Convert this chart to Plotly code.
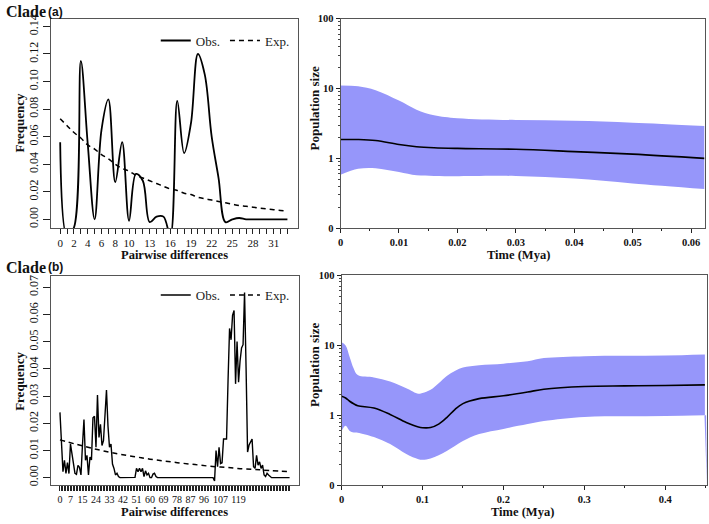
import plotly.graph_objects as go

W, H = 709, 524
SERIF = "Liberation Serif"
SANS = "Liberation Sans"

# ---------------- Clade (a): mismatch distribution ----------------
diff_a = list(range(0, 34))
obs_a = [0.056, -0.012, -0.006, 0.115, 0.055, 0.000, 0.065, 0.087, 0.027, 0.056,
         -0.001, 0.033, 0.028, -0.002, 0.002, 0.002, -0.012, 0.086, 0.048, 0.070,
         0.120, 0.105, 0.060, 0.030, -0.002, 0.000, 0.001, 0.000, 0.000, 0.000,
         0.000, 0.000, 0.000, 0.000]
exp_a = [0.073, 0.068, 0.063, 0.059, 0.054, 0.051, 0.047, 0.044, 0.040, 0.037,
         0.035, 0.032, 0.030, 0.028, 0.026, 0.024, 0.022, 0.021, 0.019, 0.018,
         0.016, 0.015, 0.014, 0.013, 0.012, 0.011, 0.010, 0.0095, 0.0088, 0.0082,
         0.0076, 0.0070, 0.0065, 0.0060]
xlabels_a = [0, 2, 4, 6, 8, 10, 13, 16, 19, 22, 25, 28, 31]
yticks_a = [0.00, 0.02, 0.04, 0.06, 0.08, 0.10, 0.12, 0.14]

# ---------------- Clade (b): mismatch distribution ----------------
obs_b_x = [0, 2, 3, 4, 5, 6, 7, 9, 10, 11, 12, 13, 14, 15, 16, 17, 18, 19, 20, 21,
           22, 23, 24, 25, 26, 27, 28, 29, 30, 31, 32, 33, 34, 35, 36, 37, 38, 39, 40,
           49, 50, 51, 52, 53, 54, 55, 56, 57, 58, 59, 60, 61, 62, 63, 64, 65,
           102, 103, 104, 105, 106, 107, 108, 109, 110, 111, 112, 113, 114, 115, 116,
           117, 118, 119, 120, 121, 122, 123, 124, 125, 126, 127, 128, 129, 130, 131,
           132, 133, 134, 135, 136, 137, 138, 139, 140, 141, 153]
obs_b_y = [0.024, 0.0022, 0.0064, 0.0016, 0.0055, 0.0015, 0.0124, 0.0045, 0.0016, 0.0012,
           0.0045, 0.0038, 0.0010, 0.0120, 0.0214, 0.0064, 0.0082, 0.0010, 0.0076, 0.0065,
           0.0220, 0.0226, 0.0112, 0.0304, 0.0148, 0.0196, 0.0118, 0.0136, 0.0250, 0.0322,
           0.0190, 0.0112, 0.0124, 0.0050, 0.0034, 0.0010, 0.0016, 0.0004, 0.0,
           0.0, 0.0001, 0.0034, 0.0022, 0.0034, 0.0022, 0.0034, 0.0004, 0.0025, 0.0010,
           0.0016, 0.0, 0.0, 0.0013, 0.0016, 0.0004, 0.0,
           0.0, -0.0012, 0.0100, 0.0040, 0.0112, 0.0052, 0.0055, 0.0142, 0.0142, 0.0142,
           0.0357, 0.0549, 0.0507, 0.0597, 0.0615, 0.0345, 0.0501, 0.0351, 0.0429, 0.0477,
           0.0489, 0.0681, 0.0405, 0.0094, 0.0120, 0.0130, 0.0142, 0.0040, 0.0034, 0.0082,
           0.0046, 0.0058, 0.0034, 0.0046, 0.0010, 0.0004, 0.0016, 0.0010, 0.0005, 0.0, 0.0]
exp_b_x = [0, 10, 20, 30, 40, 50, 60, 70, 80, 90, 100, 110, 120, 130, 140, 153]
exp_b_y = [0.0139, 0.0124, 0.0110, 0.0097, 0.0086, 0.0077, 0.0068, 0.0061, 0.0054,
           0.0048, 0.0042, 0.0038, 0.0033, 0.0030, 0.0026, 0.0022]
xlabels_b = [0, 7, 15, 24, 33, 42, 51, 60, 69, 78, 87, 96, 107, 119]
xmax_b = 153
yticks_b = [0.00, 0.01, 0.02, 0.03, 0.04, 0.05, 0.06, 0.07]

# ---------------- Clade (a): Bayesian skyline ----------------
t_a = [0, 0.003, 0.006, 0.01, 0.013, 0.016, 0.02, 0.03, 0.04, 0.05, 0.0623]
med_a = [1.86, 1.86, 1.80, 1.58, 1.47, 1.42, 1.39, 1.35, 1.25, 1.15, 1.00]
up_a = [11.1, 10.8, 9.48, 6.73, 4.99, 4.16, 3.77, 3.54, 3.46, 3.25, 2.92]
lo_a = [0.585, 0.71, 0.725, 0.638, 0.573, 0.56, 0.555, 0.56, 0.515, 0.438, 0.365]
xt_a = [0, 0.01, 0.02, 0.03, 0.04, 0.05, 0.06]

# ---------------- Clade (b): Bayesian skyline ----------------
t_b = [0, 0.005, 0.01, 0.015, 0.02, 0.04, 0.06, 0.08, 0.095, 0.1, 0.11, 0.12, 0.13,
       0.14, 0.15, 0.17, 0.2, 0.23, 0.25, 0.3, 0.35, 0.4, 0.449]
med_b = [1.87, 1.77, 1.59, 1.46, 1.37, 1.27, 1.03, 0.79, 0.68, 0.665, 0.67, 0.75, 0.93,
         1.21, 1.47, 1.73, 1.90, 2.15, 2.36, 2.58, 2.63, 2.66, 2.72]
up_b = [11.0, 9.9, 6.8, 4.65, 3.76, 3.48, 3.03, 2.44, 2.03, 2.08, 2.31, 2.87, 3.64,
        4.3, 4.8, 5.19, 5.47, 5.9, 6.56, 7.0, 7.1, 7.16, 7.4]
lo_b = [0.60, 0.71, 0.60, 0.57, 0.565, 0.49, 0.39, 0.28, 0.236, 0.232, 0.242, 0.27, 0.31,
        0.365, 0.43, 0.54, 0.64, 0.75, 0.83, 0.95, 0.97, 0.98, 1.0]
tail_b_x = [0.4485, 0.4505, 0.4515]
tail_b_y = [1.0, 1.0, 0.1]
xt_b = [0, 0.1, 0.2, 0.3, 0.4]

ytick_log = [0.1, 1, 10, 100]
ytick_log_text = ["0", "1", "10", "100"]
minor_log = [m * d for d in (0.1, 1, 10) for m in range(2, 10)]

FILL = "rgb(150,150,250)"
BOX = "#555555"


def px_x(p):
    return p / W


def px_y(p):
    return 1 - p / H


fig = go.Figure()

# --- traces: TL
fig.add_trace(go.Scatter(x=diff_a, y=obs_a, mode="lines", name="Obs.",
                         line=dict(color="black", width=1.8, shape="spline", smoothing=1.0),
                         xaxis="x", yaxis="y", legend="legend"))
fig.add_trace(go.Scatter(x=diff_a, y=exp_a, mode="lines", name="Exp.",
                         line=dict(color="black", width=1.5, dash="5px,4px", shape="spline"),
                         xaxis="x", yaxis="y", legend="legend"))
# --- traces: TR
fig.add_trace(go.Scatter(x=t_a, y=lo_a, mode="lines", line=dict(width=0, shape="spline"),
                         showlegend=False, xaxis="x2", yaxis="y2", hoverinfo="skip"))
fig.add_trace(go.Scatter(x=t_a, y=up_a, mode="lines", line=dict(width=0, shape="spline"),
                         fill="tonexty", fillcolor=FILL, showlegend=False,
                         xaxis="x2", yaxis="y2", hoverinfo="skip"))
fig.add_trace(go.Scatter(x=t_a, y=med_a, mode="lines",
                         line=dict(color="black", width=1.6, shape="spline"),
                         showlegend=False, xaxis="x2", yaxis="y2"))
# --- traces: BL
fig.add_trace(go.Scatter(x=obs_b_x, y=obs_b_y, mode="lines", name="Obs.",
                         line=dict(color="black", width=1.4),
                         xaxis="x3", yaxis="y3", legend="legend2"))
fig.add_trace(go.Scatter(x=exp_b_x, y=exp_b_y, mode="lines", name="Exp.",
                         line=dict(color="black", width=1.5, dash="5px,4px", shape="spline"),
                         xaxis="x3", yaxis="y3", legend="legend2"))
# --- traces: BR
fig.add_trace(go.Scatter(x=t_b, y=lo_b, mode="lines", line=dict(width=0, shape="spline"),
                         showlegend=False, xaxis="x4", yaxis="y4", hoverinfo="skip"))
fig.add_trace(go.Scatter(x=t_b, y=up_b, mode="lines", line=dict(width=0, shape="spline"),
                         fill="tonexty", fillcolor=FILL, showlegend=False,
                         xaxis="x4", yaxis="y4", hoverinfo="skip"))
fig.add_trace(go.Scatter(x=tail_b_x, y=tail_b_y, mode="lines", line=dict(width=0),
                         fill="toself", fillcolor=FILL, showlegend=False,
                         xaxis="x4", yaxis="y4", hoverinfo="skip"))
fig.add_trace(go.Scatter(x=t_b, y=med_b, mode="lines",
                         line=dict(color="black", width=1.6, shape="spline"),
                         showlegend=False, xaxis="x4", yaxis="y4"))

tick_font_l = dict(family=SERIF, size=12, color="#111111")
tick_font_xa = dict(family=SERIF, size=11, color="#111111")
tick_font_xb = dict(family=SERIF, size=10, color="#111111")
tick_font_r = dict(family=SERIF, size=10.5, color="#111111", weight="bold")

common = dict(showline=True, mirror=True, linecolor=BOX, linewidth=1,
              ticks="outside", tickcolor="#222222", tickwidth=1,
              showgrid=False, zeroline=False)

# label arrays
ta_vals = diff_a
ta_text = [str(v) if v in xlabels_a else "" for v in diff_a]
tb_vals = list(range(0, xmax_b + 1))
tb_text = [str(v) if v in xlabels_b else "" for v in tb_vals]

fig.update_layout(
    width=W, height=H, margin=dict(l=0, r=0, t=0, b=0),
    paper_bgcolor="white", plot_bgcolor="white",
    xaxis=dict(domain=[px_x(48.3), px_x(296)], anchor="y", range=[-1.32, 34.5],
               tickmode="array", tickvals=ta_vals, ticktext=ta_text, ticklen=5, tickangle=0,
               tickfont=tick_font_xa, **common),
    yaxis=dict(domain=[px_y(227.7), px_y(14)], anchor="x", range=[-0.0062, 0.1456],
               tickmode="array", tickvals=yticks_a,
               ticktext=["%.2f" % v for v in yticks_a], ticklen=7, tickangle=-90,
               tickfont=tick_font_l, **common),
    xaxis2=dict(domain=[px_x(339), px_x(704.5)], anchor="y2", range=[0, 0.0623],
                tickmode="array", tickvals=xt_a, ticktext=["0"] + ["%g" % v for v in xt_a[1:]],
                ticklen=4, tickfont=tick_font_r, tickangle=0,
                minor=dict(tickvals=[0.005, 0.015, 0.025, 0.035, 0.045, 0.055],
                           ticks="outside", ticklen=2, tickcolor="#222222"),
                **common),
    yaxis2=dict(domain=[px_y(228), px_y(14)], anchor="x2", type="log", range=[-1, 2],
                tickmode="array", tickvals=ytick_log, ticktext=ytick_log_text, ticklen=4,
                tickfont=tick_font_r,
                minor=dict(tickvals=minor_log, ticks="outside", ticklen=2, tickcolor="#444444"),
                **common),
    xaxis3=dict(domain=[px_x(48), px_x(297)], anchor="y3", range=[-6.1, 159.1],
                tickmode="array", tickvals=tb_vals, ticktext=tb_text, ticklen=5, tickangle=0,
                tickfont=tick_font_xb, **common),
    yaxis3=dict(domain=[px_y(490), px_y(277.3)], anchor="x3", range=[-0.0026, 0.074],
                tickmode="array", tickvals=yticks_b,
                ticktext=["%.2f" % v for v in yticks_b], ticklen=7, tickangle=-90,
                tickfont=tick_font_l, **common),
    xaxis4=dict(domain=[px_x(340), px_x(707.3)], anchor="y4", range=[0, 0.452],
                tickmode="array", tickvals=xt_b, ticktext=["0"] + ["%g" % v for v in xt_b[1:]],
                ticklen=4, tickfont=tick_font_r, tickangle=0,
                minor=dict(tickvals=[0.05, 0.15, 0.25, 0.35, 0.45],
                           ticks="outside", ticklen=2, tickcolor="#222222"),
                **common),
    yaxis4=dict(domain=[px_y(490.7), px_y(276)], anchor="x4", type="log", range=[-1, 2],
                tickmode="array", tickvals=ytick_log, ticktext=ytick_log_text, ticklen=4,
                tickfont=tick_font_r,
                minor=dict(tickvals=minor_log, ticks="outside", ticklen=2, tickcolor="#444444"),
                **common),
    legend=dict(orientation="h", x=px_x(293), xanchor="right", y=px_y(21), yanchor="top",
                bgcolor="rgba(0,0,0,0)", font=dict(family=SERIF, size=13, color="#222222"),
                itemwidth=30, tracegroupgap=0, traceorder="normal"),
    legend2=dict(orientation="h", x=px_x(293), xanchor="right", y=px_y(281), yanchor="top",
                 bgcolor="rgba(0,0,0,0)", font=dict(family=SERIF, size=13, color="#222222"),
                 itemwidth=30, tracegroupgap=0, traceorder="normal"),
    showlegend=True,
)

annotations = []


def ann(text, x, y, size=13, family=SERIF, angle=0, xanchor="center", bold=True):
    annotations.append(dict(
        text=("<b>%s</b>" % text) if bold else text, x=px_x(x), y=px_y(y),
        xref="paper", yref="paper", showarrow=False, xanchor=xanchor, yanchor="middle",
        textangle=angle, font=dict(family=family, size=size, color="#111111")))


# Panel headings
ann("Clade", 1, 7, size=16, xanchor="left")
ann("(a)", 43, 7, size=12, family=SANS, xanchor="left")
ann("Clade", 1, 268, size=16, xanchor="left")
ann("(b)", 43, 268, size=12, family=SANS, xanchor="left")
# Axis titles
ann("Frequency", 17, 120, angle=-90)
ann("Frequency", 17, 384, angle=-90)
ann("Pairwise differences", 172, 255.5, size=12.5)
ann("Pairwise differences", 172, 517.5, size=12.5)
ann("Population size", 313, 106, angle=-90)
ann("Population size", 313, 368, angle=-90)
ann("Time (Mya)", 518, 255, size=12.5)
ann("Time (Mya)", 522, 517.5, size=12.5)

fig.update_layout(annotations=annotations)

fig.write_html(
    "out.html",
    config={"displayModeBar": False},
    post_script="document.body.style.margin='0';document.body.style.padding='0';"
                "document.documentElement.style.overflow='hidden';",
)
